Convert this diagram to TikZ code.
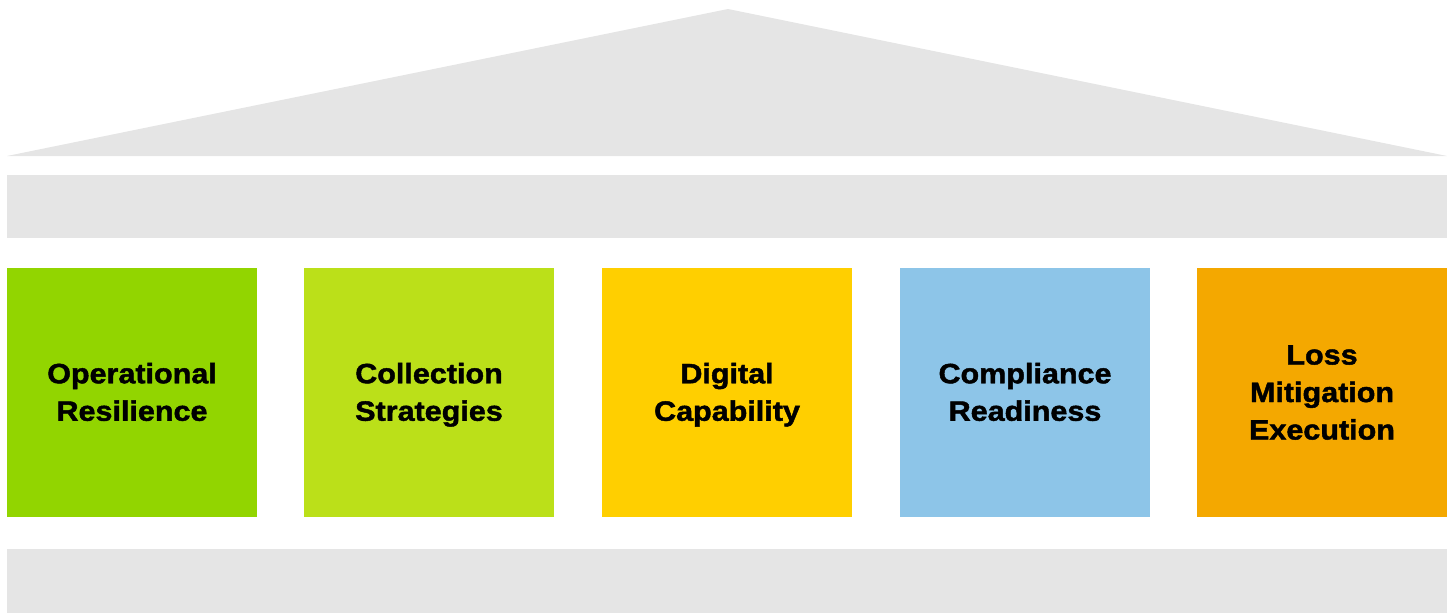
\documentclass[tikz,border=0pt]{standalone}
\usepackage{fontspec}
\setmainfont{Liberation Sans}[BoldFont = Liberation Sans Bold, BoldFeatures = {FakeBold = 1.6, FakeStretch = 1.09}]
\usepackage{tikz}
\usetikzlibrary{positioning}
\definecolor{temple gray}{HTML}{E5E5E5}
\definecolor{pillar green}{HTML}{92D500}
\definecolor{pillar lime}{HTML}{BBE019}
\definecolor{pillar yellow}{HTML}{FFCF00}
\definecolor{pillar blue}{HTML}{8DC5E8}
\definecolor{pillar orange}{HTML}{F4A800}
% fixed line box so descenders do not shift the labels
\newcommand{\pline}{\rule[-6pt]{0pt}{31pt}}
\tikzset{
slab/.style = { rectangle, draw = none, fill = temple gray, minimum width = 1440pt, minimum height = 63.5pt, inner sep = 0pt },
pillar/.style = { rectangle, draw = none, fill = #1, minimum width = 250pt, minimum height = 249pt, inner sep = 0pt, align = center,
    font = \fontsize{28pt}{37.5pt}\selectfont\bfseries },
}

\begin{document}
\begin{tikzpicture}[x = 1pt, y = -1pt]
    \useasboundingbox (0, 0) rectangle (1453, 613);
    % roof, beam and base
    \path[fill = temple gray] (7, 156) -- (728, 9) -- (1447, 156) -- cycle;
    \node[slab] (beam) at (727, 206.5) {};
    \node[slab, minimum height = 64pt] (base) at (727, 581) {};
    % the five pillars
    \node[pillar = pillar green] (resilience) at (132, 392.5) {\pline Operational\\\pline Resilience};
    \node[pillar = pillar lime] (collection) at (429, 392.5) {\pline Collection\\\pline Strategies};
    \node[pillar = pillar yellow] (digital) at (727, 392.5) {\pline Digital\\\pline Capability};
    \node[pillar = pillar blue] (compliance) at (1025, 392.5) {\pline Compliance\\\pline Readiness};
    \node[pillar = pillar orange] (mitigation) at (1322, 392.5) {\pline Loss\\\pline Mitigation\\\pline Execution};
\end{tikzpicture}
\end{document}
